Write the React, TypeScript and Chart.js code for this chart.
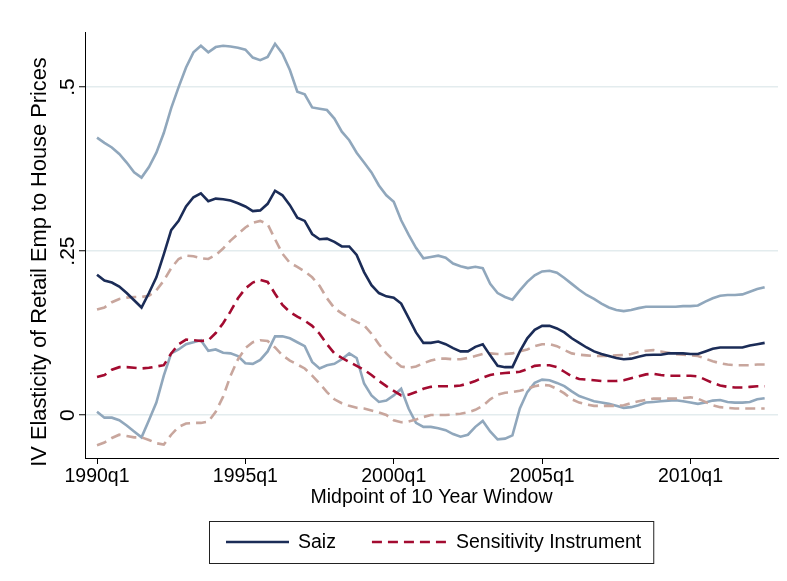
import { useEffect, useRef } from "react";
import { Chart, registerables } from "chart.js";

Chart.register(...registerables);

// Quarterly categories: 1990q1 ... 2012q3
const years = [1990, 1991, 1992, 1993, 1994, 1995, 1996, 1997, 1998, 1999, 2000, 2001, 2002, 2003, 2004, 2005, 2006, 2007, 2008, 2009, 2010, 2011, 2012];
const quarters: string[] = years.flatMap((y) => [1, 2, 3, 4].map((q) => `${y}q${q}`)).slice(0, 91);

const xTickLabels = ["1990q1", "1995q1", "2000q1", "2005q1", "2010q1"];
const yTickValues = [0, 0.25, 0.5];
const yTickLabels = ["0", ".25", ".5"];
const xTitle = "Midpoint of 10 Year Window";
const yTitle = "IV Elasticity of Retail Emp to House Prices";

const saiz = [
  0.214, 0.205, 0.202, 0.196, 0.186, 0.175, 0.164, 0.186, 0.21, 0.245,
  0.282, 0.296, 0.318, 0.332, 0.338, 0.326, 0.33, 0.329, 0.327, 0.323,
  0.318, 0.311, 0.312, 0.322, 0.342, 0.335, 0.32, 0.301, 0.296, 0.276,
  0.268, 0.269, 0.264, 0.257, 0.257, 0.244, 0.218, 0.198, 0.186, 0.181,
  0.179, 0.17, 0.148, 0.126, 0.11, 0.11, 0.112, 0.108, 0.102, 0.097,
  0.097, 0.104, 0.108, 0.091, 0.075, 0.073, 0.073, 0.097, 0.117, 0.13,
  0.136, 0.136, 0.132, 0.126, 0.117, 0.11, 0.103, 0.097, 0.093, 0.09,
  0.087, 0.085, 0.086, 0.089, 0.0915, 0.092, 0.092, 0.094, 0.094, 0.094,
  0.093, 0.093, 0.097, 0.101, 0.103, 0.103, 0.103, 0.103, 0.106, 0.108,
  0.11,
];
const saizUpper = [
  0.423, 0.415, 0.408, 0.398, 0.385, 0.37, 0.362, 0.378, 0.4, 0.43,
  0.468, 0.5, 0.53, 0.553, 0.563, 0.553, 0.561, 0.563, 0.562, 0.56,
  0.557, 0.545, 0.541, 0.546, 0.566, 0.551, 0.526, 0.493, 0.489, 0.469,
  0.467, 0.465, 0.452, 0.432, 0.419, 0.4, 0.385, 0.37, 0.35, 0.335,
  0.325, 0.297, 0.275, 0.255, 0.239, 0.241, 0.243, 0.24, 0.231, 0.227,
  0.224, 0.226, 0.224, 0.2, 0.186, 0.18, 0.176, 0.19, 0.203, 0.213,
  0.219, 0.22, 0.217, 0.209, 0.2, 0.191, 0.183, 0.177, 0.17, 0.164,
  0.16, 0.1585, 0.16, 0.163, 0.165, 0.165, 0.165, 0.165, 0.165, 0.166,
  0.166, 0.167, 0.173, 0.178, 0.182, 0.183, 0.183, 0.184, 0.188, 0.192,
  0.195,
];
const saizLower = [
  0.005, -0.004, -0.004, -0.008, -0.016, -0.025, -0.034, -0.008, 0.019, 0.06,
  0.094, 0.1, 0.108, 0.111, 0.114, 0.098, 0.1, 0.095, 0.094, 0.09,
  0.079, 0.078, 0.084, 0.097, 0.12, 0.12, 0.117, 0.111, 0.105, 0.081,
  0.071, 0.076, 0.078, 0.085, 0.094, 0.087, 0.048, 0.03, 0.02, 0.022,
  0.03, 0.04, 0.01, -0.012, -0.018, -0.018, -0.02, -0.023, -0.029, -0.033,
  -0.03, -0.018, -0.009, -0.025, -0.037, -0.036, -0.031, 0.01, 0.035, 0.049,
  0.054, 0.053, 0.049, 0.044, 0.036, 0.029, 0.025, 0.021, 0.019, 0.017,
  0.014, 0.011, 0.012, 0.015, 0.019, 0.02, 0.021, 0.022, 0.0225, 0.021,
  0.019, 0.017, 0.019, 0.022, 0.023, 0.02, 0.019, 0.019, 0.02, 0.024,
  0.0255,
];
const sensitivity = [
  0.058, 0.061, 0.069, 0.073, 0.073, 0.072, 0.071, 0.072, 0.074, 0.076,
  0.094, 0.108, 0.115, 0.114, 0.113, 0.114, 0.125, 0.14, 0.158, 0.178,
  0.193, 0.202, 0.206, 0.203, 0.185, 0.168, 0.157, 0.15, 0.144, 0.136,
  0.124, 0.108, 0.094, 0.087, 0.081, 0.075, 0.069, 0.061, 0.052, 0.044,
  0.037, 0.03, 0.031, 0.035, 0.04, 0.043, 0.044, 0.044, 0.044, 0.045,
  0.048, 0.052, 0.057, 0.061, 0.063, 0.064, 0.065, 0.066, 0.07, 0.075,
  0.076, 0.076, 0.073, 0.066, 0.059, 0.055, 0.054, 0.053, 0.052, 0.052,
  0.052, 0.053, 0.056, 0.059, 0.062, 0.063, 0.061, 0.06, 0.06, 0.06,
  0.06, 0.059, 0.054, 0.049, 0.045, 0.043, 0.042, 0.042, 0.043, 0.044,
  0.044,
];
const sensitivityUpper = [
  0.161, 0.164, 0.172, 0.177, 0.179, 0.18, 0.18, 0.182, 0.19, 0.205,
  0.224, 0.238, 0.243, 0.242, 0.239, 0.238, 0.244, 0.254, 0.266, 0.276,
  0.286, 0.293, 0.296, 0.291, 0.268, 0.246, 0.232, 0.226, 0.219, 0.21,
  0.197, 0.178, 0.163, 0.155, 0.148, 0.142, 0.137, 0.124, 0.108, 0.094,
  0.083, 0.074, 0.072, 0.074, 0.079, 0.083, 0.086, 0.086, 0.085, 0.085,
  0.087, 0.09, 0.093, 0.094, 0.093, 0.093, 0.094, 0.097, 0.1, 0.105,
  0.108, 0.108, 0.105, 0.099, 0.094, 0.092, 0.091, 0.09, 0.09, 0.09,
  0.091, 0.0915, 0.093, 0.096, 0.098, 0.099, 0.097, 0.095, 0.093, 0.092,
  0.091, 0.09, 0.086, 0.082, 0.079, 0.077, 0.076, 0.076, 0.076, 0.077,
  0.077,
];
const sensitivityLower = [
  -0.046, -0.042, -0.035, -0.03, -0.032, -0.034, -0.034, -0.038, -0.043, -0.045,
  -0.03, -0.018, -0.013, -0.012, -0.012, -0.01, 0.005, 0.028, 0.06, 0.085,
  0.102, 0.111, 0.114, 0.113, 0.103, 0.091, 0.083, 0.077, 0.071, 0.06,
  0.048, 0.035, 0.024, 0.018, 0.014, 0.011, 0.01, 0.007, 0.004, 0.0,
  -0.008, -0.011, -0.01, -0.007, -0.003, 0.0, 0.0, 0.0, 0.001, 0.002,
  0.004, 0.008, 0.014, 0.024, 0.031, 0.034, 0.035, 0.037, 0.04, 0.044,
  0.046, 0.045, 0.04, 0.033, 0.024, 0.019, 0.016, 0.014, 0.014, 0.014,
  0.014, 0.015, 0.018, 0.021, 0.023, 0.025, 0.025, 0.025, 0.025, 0.026,
  0.027, 0.025, 0.02, 0.015, 0.012, 0.011, 0.01, 0.01, 0.01, 0.01,
  0.01,
];

const NAVY = "#1b2c57";
const LIGHTBLUE = "#90a7bc";
const RED = "#a30b30";
const PINK = "#c8a69d";

const FONT = "'Liberation Sans', Arial, sans-serif";
const HSIZE = 19.5;

const toPoints = (arr: number[]) => arr.map((v, i) => ({ x: i, y: v }));

// Rotated y-axis title (Stata places it a little lower than the plot centre)
const yTitlePlugin = {
  id: "stataYTitle",
  afterDraw(chart: any) {
    const ctx: CanvasRenderingContext2D = chart.ctx;
    const { top, bottom } = chart.chartArea;
    ctx.save();
    ctx.font = `21.8px ${FONT}`;
    ctx.fillStyle = "#000";
    ctx.textAlign = "center";
    ctx.textBaseline = "middle";
    ctx.translate(40, (top + bottom) / 2 + 17);
    ctx.rotate(-Math.PI / 2);
    ctx.fillText(yTitle, 0, 0);
    ctx.restore();
  },
};

const legendPlugin = {
  id: "stataLegend",
  afterDraw(chart: any) {
    const ctx: CanvasRenderingContext2D = chart.ctx;
    const { left, right } = chart.chartArea;
    const items = chart.data.datasets.filter((d: any) => d.showInLegend);
    ctx.save();
    ctx.font = `${HSIZE}px ${FONT}`;
    const padL = 17, padR = 12, gapText = 9, gapItem = 36;
    const lineLens = [63, 75];
    const widths = items.map((d: any) => ctx.measureText(d.label).width);
    let total = padL + padR;
    items.forEach((_: any, i: number) => {
      total += lineLens[i % 2] + gapText + widths[i] + (i < items.length - 1 ? gapItem : 0);
    });
    const h = 42;
    const top = 521;
    const x0 = Math.round((left + right) / 2 - total / 2);
    ctx.fillStyle = "#ffffff";
    ctx.fillRect(x0, top, total, h);
    ctx.strokeStyle = "#222222";
    ctx.lineWidth = 1;
    ctx.strokeRect(x0 + 0.5, top + 0.5, total, h);
    let x = x0 + padL;
    const cy = top + h / 2;
    items.forEach((d: any, i: number) => {
      const len = lineLens[i % 2];
      ctx.beginPath();
      ctx.setLineDash(d.borderDash || []);
      ctx.strokeStyle = d.borderColor;
      ctx.lineWidth = d.borderWidth;
      ctx.moveTo(x, cy);
      ctx.lineTo(x + len, cy);
      ctx.stroke();
      ctx.setLineDash([]);
      x += len + gapText;
      ctx.fillStyle = "#000000";
      ctx.textBaseline = "middle";
      ctx.textAlign = "left";
      ctx.fillText(d.label, x, cy + 1);
      x += widths[i] + gapItem;
    });
    ctx.restore();
  },
};

export default function App() {
  const ref = useRef<HTMLCanvasElement | null>(null);
  useEffect(() => {
    if (!ref.current) return;
    const xTickValues = xTickLabels.map((l) => quarters.indexOf(l));
    const chart = new Chart(ref.current, {
      type: "line",
      data: {
        datasets: [
          { label: "Saiz", showInLegend: true, data: toPoints(saiz), borderColor: NAVY, borderWidth: 2.6, pointRadius: 0, tension: 0, fill: false } as any,
          { label: "Sensitivity Instrument", showInLegend: true, data: toPoints(sensitivity), borderColor: RED, borderWidth: 2.6, borderDash: [10, 6], pointRadius: 0, tension: 0, fill: false } as any,
          { label: "Sensitivity upper", data: toPoints(sensitivityUpper), borderColor: PINK, borderWidth: 2.6, borderDash: [10, 6], pointRadius: 0, tension: 0, fill: false } as any,
          { label: "Sensitivity lower", data: toPoints(sensitivityLower), borderColor: PINK, borderWidth: 2.6, borderDash: [10, 6], pointRadius: 0, tension: 0, fill: false } as any,
          { label: "Saiz upper", data: toPoints(saizUpper), borderColor: LIGHTBLUE, borderWidth: 2.6, pointRadius: 0, tension: 0, fill: false } as any,
          { label: "Saiz lower", data: toPoints(saizLower), borderColor: LIGHTBLUE, borderWidth: 2.6, pointRadius: 0, tension: 0, fill: false } as any,
        ],
      },
      options: {
        animation: false,
        responsive: false,
        events: [],
        layout: { padding: { top: 32, right: 9, left: 0, bottom: 0 } },
        plugins: { legend: { display: false }, tooltip: { enabled: false } },
        scales: {
          x: {
            type: "linear",
            min: -1.62,
            max: 91.8,
            afterBuildTicks: (s: any) => {
              s.ticks = xTickValues.map((v) => ({ value: v }));
            },
            afterFit: (s: any) => {
              s.height = 123;
            },
            ticks: {
              autoSkip: false,
              maxRotation: 0,
              minRotation: 0,
              padding: 1,
              color: "#000",
              font: { family: FONT, size: HSIZE },
              callback: (v: any) => quarters[Math.round(Number(v))],
            },
            grid: { drawOnChartArea: false, drawTicks: true, tickLength: 6, tickColor: "#000", tickWidth: 1 },
            border: { display: true, color: "#000", width: 1 },
            title: {
              display: true,
              text: xTitle,
              color: "#000",
              font: { family: FONT, size: HSIZE },
              padding: { top: 0, bottom: 72 },
            },
          },
          y: {
            type: "linear",
            min: -0.0655,
            max: 0.584,
            afterBuildTicks: (s: any) => {
              s.ticks = yTickValues.map((v) => ({ value: v }));
            },
            afterFit: (s: any) => {
              s.width = 85;
            },
            ticks: {
              autoSkip: false,
              minRotation: 90,
              maxRotation: 90,
              crossAlign: "center",
              padding: -4,
              color: "#000",
              font: { family: FONT, size: 21 },
              callback: (v: any) => yTickLabels[yTickValues.indexOf(Number(v))] ?? "",
            },
            grid: { color: "#e3ecee", lineWidth: 1.5, drawTicks: true, tickLength: 6, tickColor: "#000", tickWidth: 1 },
            border: { display: true, color: "#000", width: 1 },
            title: { display: false },
          },
        },
      },
      plugins: [yTitlePlugin, legendPlugin],
    });
    return () => chart.destroy();
  }, []);
  return (
    <div style={{ position: "absolute", left: 0, top: 0, width: 787, height: 581, background: "#fff" }}>
      <canvas ref={ref} width={787} height={581} style={{ display: "block" }} />
    </div>
  );
}
